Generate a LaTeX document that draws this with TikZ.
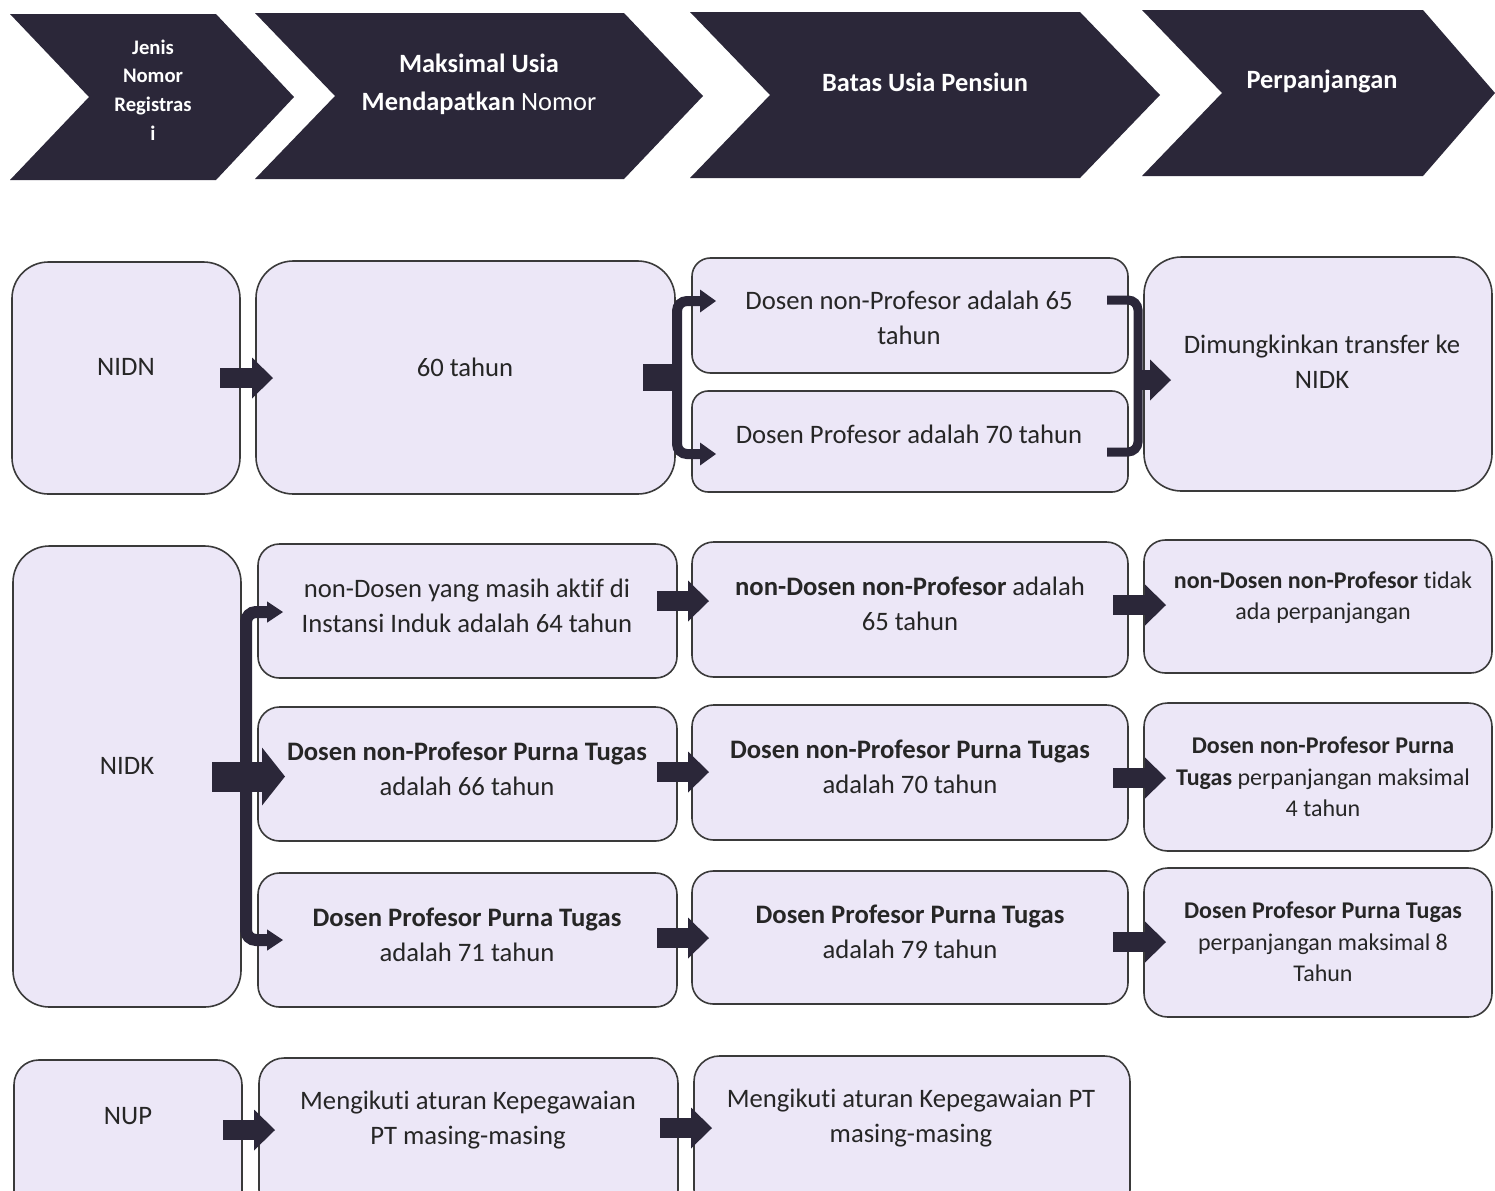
\documentclass[tikz,border=0pt]{standalone}
\usepackage{fontspec}
\setmainfont{Carlito}[Ligatures=NoCommon]
\usetikzlibrary{arrows.meta,calc}
\definecolor{dk}{HTML}{2B2739}
\definecolor{lav}{HTML}{ECE7F7}
\definecolor{ink}{HTML}{262626}
\definecolor{edge}{HTML}{3A3A3A}
% name, x1, y1, x2, y2, text x, text y, text, extra style
\newcommand\mkbox[9]{%
  \pgfmathsetmacro\bw{(#4-#2)*0.75}%
  \pgfmathsetmacro\bh{(#5-#3)*0.75}%
  \pgfmathsetmacro\br{0.16*min(\bw,\bh)}%
  \node[bx,minimum width=\bw pt,minimum height=\bh pt,rounded corners=\br pt] (#1) at ({(#2+#4)/2},{(#3+#5)/2}) {};%
  \node[txt,#9] (#1-t) at (#6,#7) {#8};}
\begin{document}
\begin{tikzpicture}[x=0.75pt,y=-0.75pt,
  bx/.style={draw=edge,fill=lav,line width=1.2pt,inner sep=0pt,outer sep=0pt},
  txt/.style={align=center,text=ink,inner sep=0pt,font=\fontsize{20}{26.25}\selectfont},
  small/.style={font=\fontsize{18}{23.5}\selectfont},
  chev/.style={fill=dk},
  chevtxt/.style={align=center,text=white,inner sep=0pt,font=\bfseries\fontsize{19.8}{28.5}\selectfont},
  blk/.style={draw=dk,line width=15pt,-{Triangle[length=15.75pt,width=30.75pt,line width=0pt]}},
  bigblk/.style={draw=dk,line width=22.5pt,-{Triangle[length=17.25pt,width=43.5pt,line width=0pt]}},
  brkA/.style={draw=dk,line width=7.5pt,rounded corners=7.5pt,
    {Triangle[length=12pt,width=17.25pt,line width=0pt]}-{Triangle[length=12pt,width=17.25pt,line width=0pt]}},
  brkB/.style={draw=dk,line width=9pt,rounded corners=7.5pt,
    {Triangle[length=12pt,width=16pt,line width=0pt]}-{Triangle[length=12pt,width=16pt,line width=0pt]}},
  brkC/.style={draw=dk,line width=6.75pt,rounded corners=7.5pt}]
\useasboundingbox (0,0) rectangle (1495,1190);
\clip (0,0) rectangle (1495,1190);
\fill[white] (0,0) rectangle (1495,1190);

% ---- header chevrons
\fill[chev] (10,14) -- (216,14) -- (294,97) -- (216,180) -- (10,180) -- (89,97) -- cycle;
\fill[chev] (255,13) -- (624,13) -- (703,96) -- (624,179) -- (255,179) -- (335,96) -- cycle;
\fill[chev] (690,12) -- (1080,12) -- (1160,95) -- (1080,178) -- (690,178) -- (770,95) -- cycle;
\fill[chev] (1142,10) -- (1423,10) -- (1495,93) -- (1423,176) -- (1142,176) -- (1222,93) -- cycle;
\node[chevtxt,font=\bfseries\fontsize{15.5}{21.4}\selectfont] (h1) at (153,90) {Jenis\\Nomor\\Registras\\i};
\node[chevtxt] (h2) at (479,84) {Maksimal Usia\\Mendapatkan {\mdseries Nomor}};
\node[chevtxt] (h3) at (925,82) {Batas Usia Pensiun};
\node[chevtxt] (h4) at (1322,81) {Perpanjangan};

% ---- NIDN row
\mkbox{nidn}{12}{262}{240}{494}{126}{367}{NIDN}{}
\mkbox{t60}{256}{261}{675}{494}{465}{367}{60 tahun}{}
\mkbox{d65}{692}{258}{1128}{373}{909}{318}{Dosen non-Profesor adalah 65\\tahun}{}
\mkbox{d70}{692}{391}{1128}{492}{909}{434}{Dosen Profesor adalah 70 tahun}{}
\mkbox{dim}{1144}{257}{1492}{491}{1322}{362}{Dimungkinkan transfer ke\\NIDK}{}

% ---- NIDK row
\mkbox{nidk}{13}{546}{241}{1007}{127}{766}{NIDK}{}
\mkbox{n2a}{258}{544}{677}{678}{467}{606}{non-Dosen yang masih aktif di\\Instansi Induk adalah 64 tahun}{}
\mkbox{n2b}{258}{707}{677}{841}{467}{769}{\textbf{Dosen non-Profesor Purna Tugas}\\adalah 66 tahun}{}
\mkbox{n2c}{258}{873}{677}{1007}{467}{935}{\textbf{Dosen Profesor Purna Tugas}\\adalah 71 tahun}{}
\mkbox{n3a}{692}{542}{1128}{677}{910}{604}{\textbf{non-Dosen non-Profesor} adalah\\65 tahun}{}
\mkbox{n3b}{692}{705}{1128}{840}{910}{767}{\textbf{Dosen non-Profesor Purna Tugas}\\adalah 70 tahun}{}
\mkbox{n3c}{692}{871}{1128}{1004}{910}{932}{\textbf{Dosen Profesor Purna Tugas}\\adalah 79 tahun}{}
\mkbox{n4a}{1144}{540}{1492}{673}{1323}{598}{\textbf{non-Dosen non-Profesor} tidak\\ada perpanjangan}{small}
\mkbox{n4b}{1144}{703}{1492}{851}{1323}{777}{\textbf{Dosen non-Profesor Purna}\\\textbf{Tugas} perpanjangan maksimal\\4 tahun}{small}
\mkbox{n4c}{1144}{868}{1492}{1017}{1323}{942}{\textbf{Dosen Profesor Purna Tugas}\\perpanjangan maksimal 8\\Tahun}{small}

% ---- NUP row
\mkbox{nup}{14}{1060}{242}{1215}{128}{1116}{NUP}{}
\mkbox{m1}{259}{1058}{678}{1215}{468}{1120}{Mengikuti aturan Kepegawaian\\PT masing-masing}{}
\mkbox{m2}{694}{1056}{1130}{1215}{911}{1118}{Mengikuti aturan Kepegawaian PT\\masing-masing}{}

% ---- connectors NIDN row
\draw[blk] ($(nidn.east)+(-20,0)$) -- ($(t60.west|-nidn.east)+(17,0)$);
\coordinate (b1) at ($(t60.east)+(2,0)$);
\draw[dk,line width=20.25pt] ($(t60.east)+(-32,0)$) -- (b1);
\draw[brkA] ($(d65.west|-0,301)+(24,0)$) -| (b1) |- ($(d70.west|-0,454)+(24,0)$);
\coordinate (b2) at ($(dim.west)+(-6,6)$);
\draw[brkC] ($(d65.east|-0,300)+(-21,0)$) -| (b2) |- ($(d70.east|-0,452)+(-21,0)$);
\draw[blk] (b2) -- ($(dim.west|-b2)+(27,0)$);

% ---- connectors NIDK row
\coordinate (b3) at ($(nidk.east)+(5,0)$);
\draw[brkB] ($(n2a.west|-0,612)+(25,0)$) -| (b3) |- ($(n2c.west|-0,940)+(25,0)$);
\draw[bigblk] ($(nidk.east)+(-29,0)$) -- ($(n2b.west|-nidk.east)+(27,0)$);
\draw[blk] ($(n2a.east|-0,601)+(-20,0)$) -- ($(n3a.west|-0,601)+(17,0)$);
\draw[blk] ($(n2b.east|-0,772)+(-20,0)$) -- ($(n3b.west|-0,772)+(17,0)$);
\draw[blk] ($(n2c.east|-0,938)+(-20,0)$) -- ($(n3c.west|-0,938)+(17,0)$);
\draw[blk] ($(n3a.east|-0,605)+(-15,0)$) -- ($(n4a.west|-0,605)+(22,0)$);
\draw[blk] ($(n3b.east|-0,778)+(-15,0)$) -- ($(n4b.west|-0,778)+(22,0)$);
\draw[blk] ($(n3c.east|-0,942)+(-15,0)$) -- ($(n4c.west|-0,942)+(22,0)$);

% ---- connectors NUP row
\draw[blk] ($(nup.east|-0,1130)+(-19,0)$) -- ($(m1.west|-0,1130)+(16,0)$);
\draw[blk] ($(m1.east|-0,1128)+(-18,0)$) -- ($(m2.west|-0,1128)+(18,0)$);
\end{tikzpicture}
\end{document}
